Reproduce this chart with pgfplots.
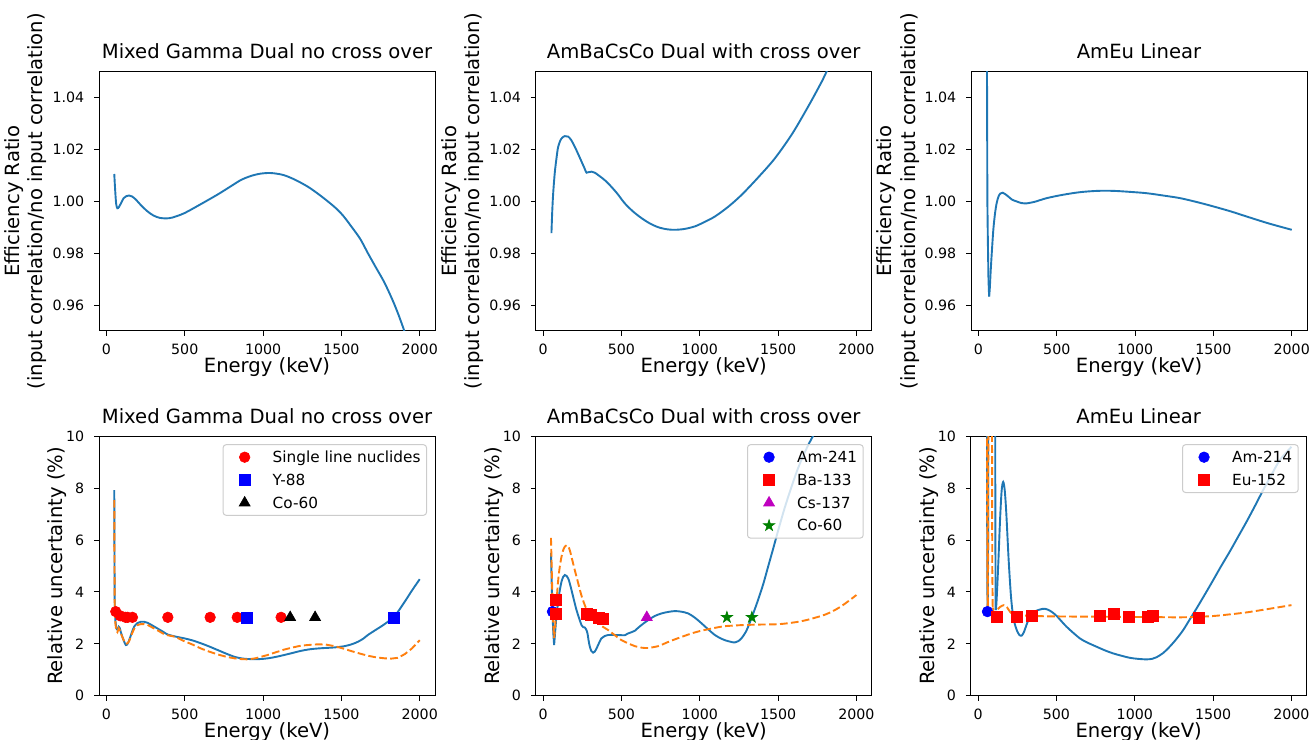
\documentclass[border=0pt]{standalone}
\usepackage{pgfplots}
\pgfplotsset{compat=1.18}
\usepackage{fontspec}
\setmainfont{DejaVu Sans}
\definecolor{mplblue}{HTML}{1F77B4}
\definecolor{mplorange}{HTML}{FF7F0E}
\definecolor{mplmag}{HTML}{BF00BF}
\definecolor{mplgreen}{HTML}{008000}
\pgfdeclareplotmark{fstar}{%
  \pgfpathmoveto{\pgfpointpolar{90}{\pgfplotmarksize}}%
  \pgfpathlineto{\pgfpointpolar{126}{0.382*\pgfplotmarksize}}%
  \pgfpathlineto{\pgfpointpolar{162}{\pgfplotmarksize}}%
  \pgfpathlineto{\pgfpointpolar{198}{0.382*\pgfplotmarksize}}%
  \pgfpathlineto{\pgfpointpolar{234}{\pgfplotmarksize}}%
  \pgfpathlineto{\pgfpointpolar{270}{0.382*\pgfplotmarksize}}%
  \pgfpathlineto{\pgfpointpolar{306}{\pgfplotmarksize}}%
  \pgfpathlineto{\pgfpointpolar{342}{0.382*\pgfplotmarksize}}%
  \pgfpathlineto{\pgfpointpolar{18}{\pgfplotmarksize}}%
  \pgfpathlineto{\pgfpointpolar{54}{0.382*\pgfplotmarksize}}%
  \pgfpathclose
  \pgfusepathqfillstroke}
\newcommand\bigfont{\fontsize{19.6}{23.5}\selectfont}
\pgfplotsset{
  base/.style={
    scale only axis, width=336pt, height=259.5pt,
    xmin=-47.5, xmax=2097.5,
    xtick={0,500,1000,1500,2000},
    tick align=outside, major tick length=4.9pt,
    xtick pos=left, ytick pos=left,
    every tick/.style={black, line width=1pt},
    axis line style={black, line width=1pt},
    tick label style={font=\fontsize{14.2}{16}\selectfont},
    xticklabel style={anchor=north, inner sep=0pt, yshift=-8pt},
    yticklabel style={anchor=east, inner sep=0pt, xshift=-9.7pt},
    /pgf/number format/assume math mode=true,
    /pgf/number format/1000 sep={},
    title style={font=\bigfont, at={([yshift=6.5pt]axis description cs:0.5,1)}, anchor=base},
    xlabel={Energy (keV)},
    xlabel style={font=\bigfont, at={([yshift=-42pt]axis description cs:0.5,0)}, anchor=base},
  },
  toprow/.style={base, ymin=0.95, ymax=1.05, ytick={0.96,0.98,1.00,1.02,1.04},
    yticklabel style={/pgf/number format/fixed, /pgf/number format/fixed zerofill, /pgf/number format/precision=2},
    ylabel={Efficiency Ratio\\(input correlation/no input correlation)},
    ylabel style={font=\bigfont, align=center, at={([xshift=-48.4pt]axis description cs:0,0.5)}, anchor=south},
  },
  botrow/.style={base, ymin=0, ymax=10, ytick={0,2,4,6,8,10},
    ylabel={Relative uncertainty (\%)},
    ylabel style={font=\bigfont, at={([xshift=-36.5pt]axis description cs:0,0.5)}, anchor=base},
    legend style={
      at={(axis description cs:1,1)}, anchor=north east, xshift=-8pt, yshift=-8pt,
      draw=black!20, line width=1pt, rounded corners=3pt,
      fill=white, fill opacity=0.8, text opacity=1, draw opacity=1,
      font=\fontsize{15.3}{18}\selectfont,
      inner xsep=6pt, inner ysep=5pt, row sep=7.8pt,
      nodes={inner sep=0pt, text height=12.7pt, text depth=2.3pt},
      /tikz/every odd column/.append style={column sep=12.5pt},
    },
    legend cell align=left,
  },
  bl/.style={color=mplblue, line width=1.9pt, no markers, forget plot},
  ol/.style={color=mplorange, line width=1.9pt, dash pattern=on 7.7pt off 3.3pt, no markers, forget plot},
  mk/.style={draw=none, sharp corners, mark options={solid, line width=0.6pt},
    legend image code/.code={\draw[draw opacity=0, line width=0.1pt] (0pt,0pt) -- (31pt,0pt); \path[mark repeat=2,mark phase=2,sharp corners,fill opacity=1,draw opacity=1,##1] plot coordinates {(0pt,0pt) (15.5pt,0pt) (31pt,0pt)};}},
}
\begin{document}
\begin{tikzpicture}
\useasboundingbox (0,0) rectangle (1311pt,739pt);
% ---------- top row ----------
\begin{axis}[toprow, at={(99pt,408pt)}, anchor=south west, title={Mixed Gamma Dual no cross over}]
\addplot[bl, smooth] coordinates {(50,1.0105) (55,1.005) (62,0.9990) (70,0.9973) (80,0.9978) (95,0.9995) (110,1.0012) (128,1.0020) (145,1.0022) (165,1.0018) (190,1.0005) (220,0.9985) (260,0.9962) (300,0.9945) (340,0.9936) (380,0.9934) (420,0.9937) (497,0.9954) (600,0.9988) (710,1.0026) (800,1.0060) (859,1.0082) (920,1.0097) (980,1.0106) (1040,1.0109) (1090,1.0106) (1136,1.0100) (1200,1.0084) (1286,1.0056) (1370,1.0020) (1456,0.9978) (1510,0.9945) (1563,0.9903) (1620,0.9855) (1669,0.9800) (1720,0.9745) (1776,0.9685) (1840,0.9600) (1900,0.9503) (2000,0.932)};
\end{axis}
\begin{axis}[toprow, at={(535.7pt,408pt)}, anchor=south west, title={AmBaCsCo Dual with cross over}]
\addplot[bl, smooth] coordinates {(53,0.9877) (58,0.9960) (64,1.0030) (74,1.0108) (85,1.0165) (96,1.0210) (115,1.0240) (138,1.0251) (160,1.0249) (180,1.0235) (202,1.0210) (225,1.0180) (245,1.0153) (262,1.0130) (277,1.0110) (290,1.0112) (309,1.0114) (330,1.0110) (351,1.0101) (380,1.0088) (415,1.0069) (470,1.0032) (521,0.9992) (575,0.9960) (628,0.9935) (680,0.9915) (734,0.9900) (790,0.9892) (840,0.9890) (900,0.9893) (968,0.9903) (1030,0.9920) (1096,0.9941) (1180,0.9978) (1266,1.0024) (1370,1.0090) (1479,1.0165) (1590,1.0260) (1691,1.0364) (1760,1.0440) (1809,1.0499) (2000,1.075)};
\end{axis}
\begin{axis}[toprow, at={(971pt,408pt)}, anchor=south west, title={AmEu Linear}]
\addplot[bl] coordinates {(52,1.15) (55,1.04) (57,1.0) (60,0.985) (64,0.970) (68,0.9633)};
\addplot[bl, smooth] coordinates {(68,0.9633) (72,0.966) (78,0.973) (85,0.980) (95,0.989) (106,0.9954) (117,0.9995) (128,1.0018) (140,1.0030) (155,1.0033) (172,1.0027) (191,1.0018) (215,1.0006) (245,0.9999) (275,0.9993) (309,0.9992) (360,0.9998) (436,1.0012) (540,1.0025) (649,1.0035) (760,1.0040) (862,1.0040) (970,1.0036) (1074,1.0031) (1180,1.0022) (1287,1.0012) (1400,0.9996) (1500,0.9980) (1610,0.9961) (1713,0.9941) (1850,0.9915) (2000,0.9890)};
\end{axis}
% ---------- bottom row ----------
\begin{axis}[botrow, at={(99pt,43.3pt)}, anchor=south west, title={Mixed Gamma Dual no cross over}]
\addplot[bl] coordinates {(50,7.92) (51.5,5.0) (53,3.4) (57,2.9) (63,2.6) (70,2.53)};
\addplot[bl, smooth] coordinates {(70,2.53) (78,2.66) (84,2.62) (92,2.45) (100,2.3) (112,2.1) (124,1.95) (135,2.0) (145,2.14) (160,2.40) (177,2.66) (198,2.80) (220,2.85) (240,2.85) (262,2.81) (295,2.70) (326,2.59) (360,2.47) (390,2.36) (440,2.28) (497,2.21) (550,2.13) (603,2.02) (655,1.90) (710,1.76) (765,1.62) (817,1.50) (870,1.43) (923,1.41) (975,1.41) (1030,1.44) (1085,1.50) (1136,1.57) (1190,1.65) (1243,1.73) (1300,1.79) (1350,1.82) (1400,1.84) (1456,1.86) (1520,1.91) (1565,1.98) (1606,2.08) (1640,2.20) (1669,2.34) (1720,2.54) (1776,2.76) (1840,3.07) (1904,3.62) (1950,4.05) (2000,4.49)};
\addplot[ol] coordinates {(50,7.54) (51.5,4.8) (53,3.3) (57,2.8) (63,2.5) (70,2.45) (78,2.6) (84,2.55) (92,2.4) (100,2.28) (112,2.12) (124,2.0) (135,2.02) (145,2.1) (160,2.35) (177,2.58) (198,2.72) (220,2.76) (240,2.76) (262,2.73) (295,2.62) (326,2.52) (360,2.40) (390,2.33) (440,2.27) (497,2.10) (550,1.97) (603,1.82) (655,1.70) (710,1.59) (765,1.50) (817,1.44) (860,1.41) (902,1.40) (950,1.44) (1000,1.52) (1030,1.57) (1085,1.68) (1136,1.78) (1190,1.86) (1243,1.93) (1300,1.96) (1350,1.98) (1400,1.97) (1456,1.91) (1510,1.82) (1563,1.72) (1620,1.62) (1669,1.54) (1720,1.48) (1776,1.44) (1820,1.43) (1860,1.46) (1904,1.60) (1950,1.82) (2000,2.14)};
\addplot[mk, mark=*, mark size=5.3pt, color=red] coordinates {(59.5,3.24) (88,3.08) (122,3.02) (136,3.02) (166,3.02) (392,3.02) (662,3.02) (835,3.02) (1115,3.02)};
\addlegendentry{Single line nuclides}
\addplot[mk, mark=square*, mark size=5.5pt, color=blue] coordinates {(898,3.02) (1836,3.02)};
\addlegendentry{Y-88}
\addplot[mk, mark=triangle*, mark size=6.3pt, color=black] coordinates {(1173,3.02) (1332,3.02)};
\addlegendentry{Co-60}
\end{axis}
\begin{axis}[botrow, at={(535.7pt,43.3pt)}, anchor=south west, title={AmBaCsCo Dual with cross over}]
\addplot[bl] coordinates {(50,5.5) (55,4.2) (60,3.1) (65,2.4) (70,1.95) (76,2.4)};
\addplot[bl, smooth] coordinates {(76,2.4) (84,3.0) (96,3.62) (106,4.05) (117,4.39) (128,4.58) (138,4.65) (149,4.62) (160,4.52) (170,4.33) (181,4.07) (197,3.68) (213,3.3) (230,2.98) (245,2.72) (256,2.64) (266,2.63) (275,2.55) (283,2.40) (291,2.10) (298,1.89) (308,1.72) (319,1.66) (330,1.70) (340,1.81) (356,2.02) (372,2.21) (393,2.30) (415,2.34) (450,2.34) (479,2.34) (521,2.33) (543,2.40) (585,2.50) (607,2.62) (640,2.78) (670,2.91) (712,3.07) (755,3.17) (800,3.23) (840,3.26) (880,3.24) (926,3.17) (970,3.00) (1011,2.79) (1055,2.55) (1096,2.34) (1130,2.22) (1160,2.14) (1195,2.08) (1223,2.05) (1245,2.10) (1266,2.21) (1290,2.42) (1309,2.66) (1340,3.15) (1372,3.69) (1405,4.30) (1436,4.97) (1470,5.70) (1500,6.36) (1540,7.2) (1580,7.95) (1620,8.65) (1660,9.25) (1700,9.75) (1730,10.1) (1800,11.0) (2000,14)};
\addplot[ol] coordinates {(50,6.08) (55,4.8) (60,3.6) (65,2.7) (70,2.22) (76,2.6)};
\addplot[ol, smooth] coordinates {(76,2.6) (84,3.5) (96,4.45) (106,4.96) (117,5.35) (128,5.61) (138,5.74) (149,5.80) (160,5.75) (170,5.61) (181,5.35) (202,4.84) (224,4.33) (245,3.85) (266,3.49) (287,3.20) (310,3.02) (330,2.91) (351,2.80) (380,2.66) (415,2.53) (460,2.32) (500,2.14) (543,2.02) (585,1.91) (630,1.85) (670,1.84) (734,1.91) (790,2.05) (840,2.17) (900,2.30) (947,2.40) (1000,2.49) (1053,2.56) (1110,2.63) (1160,2.68) (1210,2.70) (1266,2.72) (1370,2.74) (1479,2.75) (1530,2.77) (1585,2.81) (1640,2.86) (1691,2.93) (1745,3.02) (1798,3.12) (1850,3.26) (1904,3.45) (1950,3.65) (2000,3.88)};
\addplot[mk, mark=*, mark size=5.3pt, color=blue] coordinates {(59.5,3.24)};
\addlegendentry{Am-241}
\addplot[mk, mark=square*, mark size=5.5pt, color=red] coordinates {(79.6,3.14) (81,3.68) (276.4,3.15) (302.9,3.10) (356,3.02) (383.8,2.98)};
\addlegendentry{Ba-133}
\addplot[mk, mark=triangle*, mark size=6.3pt, color=mplmag] coordinates {(661.7,3.02)};
\addlegendentry{Cs-137}
\addplot[mk, mark=fstar, mark size=6pt, color=mplgreen] coordinates {(1173.2,3.02) (1332.5,3.02)};
\addlegendentry{Co-60}
\end{axis}
\begin{axis}[botrow, at={(970.7pt,43.3pt)}, anchor=south west, title={AmEu Linear}]
\addplot[bl] coordinates {(50,40) (55,14) (57,8) (59,4) (61,3.3) (63,5) (65,12) (67,40) (105,40) (108,14) (110,6) (112,3.3)};
\addplot[bl, smooth] coordinates {(112,3.3) (116,3.5) (122,4.2) (130,5.3) (140,6.8) (150,7.9) (160,8.24) (170,7.9) (180,7.0) (195,5.2) (210,3.8) (225,3.0) (245,2.55) (262,2.35) (277,2.31) (292,2.45) (310,2.75) (330,3.04) (360,3.24) (394,3.32) (426,3.35) (460,3.27) (500,3.08) (564,2.66) (649,2.21) (700,2.04) (755,1.89) (808,1.75) (862,1.63) (915,1.54) (968,1.46) (1020,1.42) (1074,1.40) (1110,1.42) (1138,1.48) (1180,1.64) (1223,1.89) (1265,2.18) (1309,2.53) (1350,2.93) (1394,3.36) (1450,3.93) (1500,4.45) (1550,4.98) (1606,5.55) (1660,6.13) (1713,6.70) (1766,7.30) (1819,7.92) (1870,8.48) (1926,9.08) (2000,9.59)};
\addplot[ol] coordinates {(50,40) (56,12) (58,6) (60,3.5) (62,3.3) (64,6) (66,14) (68,40) (86,40) (88,12) (90,5) (93,3.4)};
\addplot[ol, smooth] coordinates {(93,3.4) (100,3.2) (110,3.2) (122,3.3) (140,3.42) (165,3.49) (185,3.40) (205,3.22) (230,3.12) (270,3.09) (330,3.08) (436,3.06) (600,3.05) (862,3.04) (1100,3.03) (1287,3.02) (1400,3.04) (1500,3.07) (1600,3.13) (1713,3.21) (1850,3.34) (2000,3.49)};
\addplot[mk, mark=*, mark size=5.3pt, color=blue] coordinates {(59.5,3.24)};
\addlegendentry{Am-214}
\addplot[mk, mark=square*, mark size=5.5pt, color=red] coordinates {(121.8,3.04) (244.7,3.04) (344.3,3.07) (778.9,3.07) (867.4,3.17) (964.1,3.04) (1085.8,3.04) (1112.1,3.07) (1408,3.02)};
\addlegendentry{Eu-152}
\end{axis}
\end{tikzpicture}
\end{document}
